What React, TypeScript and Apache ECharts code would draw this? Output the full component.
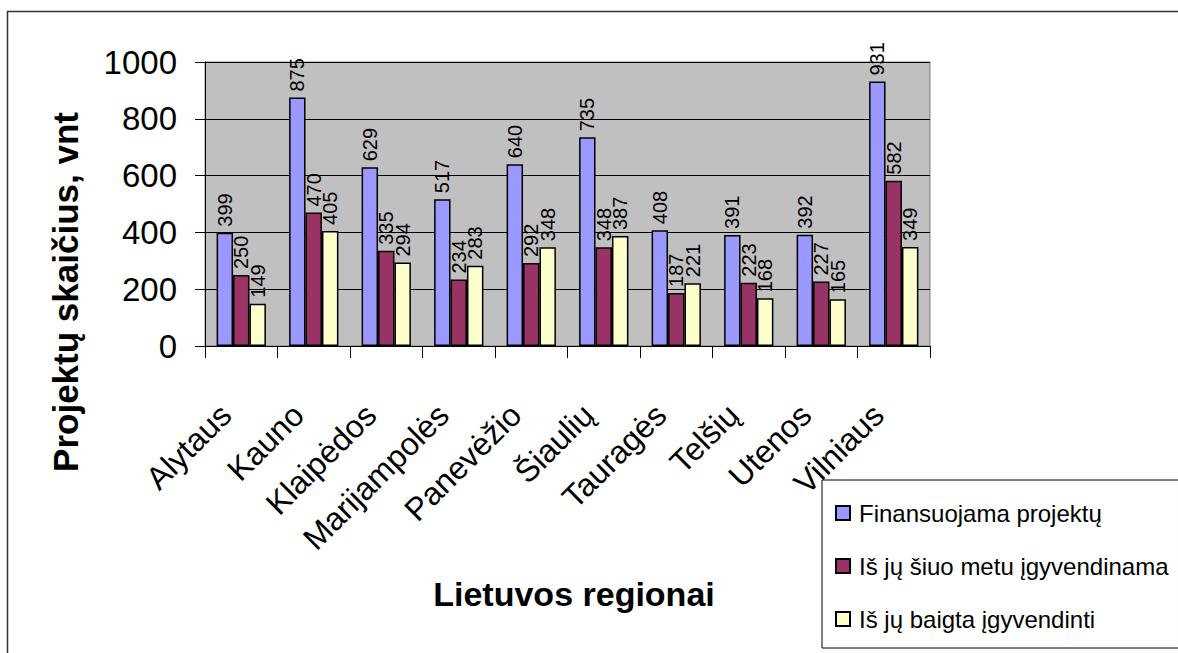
import React, { useEffect, useRef } from "react";
import * as echarts from "echarts";

const categories = ["Alytaus", "Kauno", "Klaipėdos", "Marijampolės", "Panevėžio", "Šiaulių", "Tauragės", "Telšių", "Utenos", "Vilniaus"];
const financed = [399, 875, 629, 517, 640, 735, 408, 391, 392, 931];
const ongoing = [250, 470, 335, 234, 292, 348, 187, 223, 227, 582];
const finished = [149, 405, 294, 283, 348, 387, 221, 168, 165, 349];
const seriesNames = ["Finansuojama projektų", "Iš jų šiuo metu įgyvendinama", "Iš jų baigta įgyvendinti"];
const yTicks = { min: 0, max: 1000, interval: 200 };

const FONT = "'Liberation Sans', Arial, sans-serif";
const NARROW = "'Liberation Sans Narrow', 'Arial Narrow', 'Liberation Sans', sans-serif";

export default function App() {
  const ref = useRef<HTMLDivElement>(null);
  useEffect(() => {
    if (!ref.current) return;
    const chart = echarts.init(ref.current, undefined, { renderer: "svg" });
    const colors = ["#9999FF", "#993366", "#FFFFCC"];
    const datas = [financed, ongoing, finished];
    chart.setOption({
      animation: false,
      backgroundColor: "#ffffff",
      textStyle: { fontFamily: FONT },
      grid: {
        left: 205,
        right: 248,
        top: 62,
        bottom: 307,
        show: true,
        backgroundColor: "#C0C0C0",
        borderColor: "#808080",
        borderWidth: 1,
      },
      legend: {
        orient: "vertical",
        left: 822,
        top: 480,
        icon: "rect",
        itemWidth: 14,
        itemHeight: 14,
        itemGap: 29,
        padding: [21, 10, 17, 13],
        borderColor: "#000",
        borderWidth: 1,
        backgroundColor: "#fff",
        textStyle: { fontSize: 24, color: "#000", fontFamily: FONT, padding: [0, 0, 0, 4] },
        data: seriesNames,
      },
      xAxis: {
        type: "category",
        data: categories,
        axisLine: { show: true, lineStyle: { color: "#000", width: 1 } },
        axisTick: { show: true, length: 12, lineStyle: { color: "#000" } },
        axisLabel: {
          interval: 0,
          rotate: 45,
          fontSize: 32,
          color: "#000",
          margin: 48,
          padding: [0, 22, 0, 0],
          fontFamily: FONT,
        },
      },
      yAxis: {
        type: "value",
        min: yTicks.min,
        max: yTicks.max,
        interval: yTicks.interval,
        axisLine: { show: true, lineStyle: { color: "#000", width: 1 } },
        axisTick: { show: true, length: 10, lineStyle: { color: "#000" } },
        axisLabel: {
          fontSize: 33,
          color: "#000",
          margin: 28,
          fontFamily: FONT,
          formatter: (v: number) => String(v),
        },
        splitLine: { show: true, lineStyle: { color: "#000", width: 1 } },
      },
      series: seriesNames.map((name, i) => ({
        name,
        type: "bar",
        data: datas[i],
        barGap: "0%",
        barCategoryGap: "32%",
        itemStyle: { color: colors[i], borderColor: "#000", borderWidth: 1.5 },
        label: {
          show: true,
          position: "top",
          rotate: 90,
          align: "left",
          verticalAlign: "middle",
          distance: 6,
          fontSize: 20,
          color: "#000",
          fontFamily: NARROW,
        },
      })),
      graphic: [
        {
          type: "rect",
          silent: true,
          shape: { x: 7.5, y: 11.5, width: 1400, height: 900 },
          style: { fill: "none", stroke: "#333", lineWidth: 1.5 },
          z: 100,
        },
        {
          type: "text",
          x: 65,
          y: 292,
          rotation: Math.PI / 2,
          style: {
            text: "Projektų skaičius, vnt",
            font: `bold 35px ${FONT}`,
            fill: "#000",
            textAlign: "center",
            textVerticalAlign: "middle",
          },
        },
        {
          type: "text",
          x: 574,
          y: 594,
          style: {
            text: "Lietuvos regionai",
            font: `bold 34px ${FONT}`,
            fill: "#000",
            textAlign: "center",
            textVerticalAlign: "middle",
          },
        },
      ],
    });
    return () => chart.dispose();
  }, []);
  return <div ref={ref} style={{ position: "fixed", left: 0, top: 0, width: 1178, height: 653 }} />;
}
